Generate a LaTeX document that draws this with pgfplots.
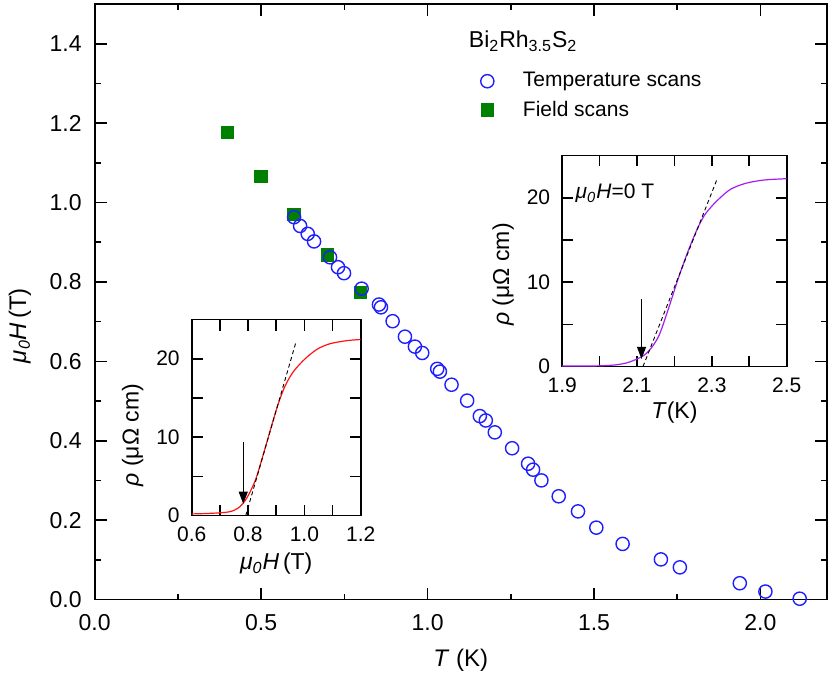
\documentclass[border=0pt]{standalone}
\usepackage{fontspec}
\setmainfont{Liberation Sans}
\usepackage{pgfplots}
\pgfplotsset{compat=1.18}
\usetikzlibrary{arrows.meta}
\definecolor{cblue}{RGB}{30,30,255}
\definecolor{cgreen}{RGB}{0,128,0}
\definecolor{cred}{RGB}{255,20,20}
\definecolor{cpurple}{RGB}{165,30,240}
\newcommand{\fsA}{\fontsize{11.5pt}{13.8pt}\selectfont}
\newcommand{\fsB}{\fontsize{10.5pt}{12.6pt}\selectfont}
\newcommand{\fsC}{\fontsize{12pt}{14.4pt}\selectfont}
\newcommand{\muH}{\textit{μ}\textsubscript{\textit{0}}\textit{H}}

\pgfplotstableread{
T H
0.599 0.963
0.617 0.941
0.640 0.921
0.659 0.902
0.707 0.862
0.731 0.837
0.749 0.822
0.802 0.783
0.854 0.743
0.860 0.736
0.895 0.701
0.932 0.662
0.962 0.637
0.984 0.621
1.029 0.581
1.037 0.574
1.072 0.541
1.119 0.501
1.157 0.462
1.175 0.451
1.202 0.421
1.254 0.381
1.302 0.342
1.317 0.327
1.342 0.300
1.394 0.260
1.452 0.222
1.507 0.181
1.586 0.140
1.701 0.101
1.758 0.081
1.938 0.041
2.015 0.020
2.118 0.002
}\tempscan

\pgfplotstableread{
T H
0.398 1.177
0.499 1.066
0.598 0.970
0.699 0.868
0.799 0.774
}\fieldscan

\pgfplotstableread{
H R
0.600 0.20
0.650 0.25
0.700 0.34
0.730 0.45
0.750 0.65
0.765 0.95
0.780 1.45
0.795 2.2
0.810 3.2
0.830 4.9
0.855 7.9
0.880 11.0
0.905 14.0
0.930 16.4
0.960 18.3
1.000 19.9
1.045 21.2
1.090 21.9
1.150 22.3
1.200 22.45
}\redcurve

\pgfplotstableread{
T R
1.900 0.05
1.950 0.05
2.000 0.08
2.040 0.18
2.070 0.40
2.090 0.70
2.110 1.10
2.125 1.55
2.140 2.30
2.160 3.8
2.185 7.0
2.210 10.4
2.235 13.5
2.260 16.2
2.280 17.9
2.300 19.0
2.320 19.9
2.350 21.0
2.390 21.7
2.440 22.1
2.500 22.25
}\purplecurve

\pgfplotsset{
  myframe/.style={
    scale only axis,
    axis line style={line width=0.9pt},
    tick style={line width=0.8pt, black},
    tick align=inside,
    /pgf/number format/assume math mode=true,
  }
}

\begin{document}
\begin{tikzpicture}
% ---------------- main axis ----------------
\begin{axis}[
  myframe,
  at={(0,0)}, anchor=south west,
  width=366.15pt, height=297.75pt,
  xmin=0, xmax=2.2, ymin=0, ymax=1.5,
  xtick={0,0.5,1,1.5,2},
  xticklabels={0.0,0.5,1.0,1.5,2.0},
  ytick={0,0.2,0.4,0.6,0.8,1.0,1.2,1.4},
  yticklabels={0.0,0.2,0.4,0.6,0.8,1.0,1.2,1.4},
  minor x tick num=1, minor y tick num=1,
  major tick length=6pt, minor tick length=3pt,
  ticklabel style={font=\fsA},
  xticklabel style={yshift=-4pt},
  yticklabel style={xshift=-3pt},
  xlabel={\textit{T} (K)},
  ylabel={\muH\,(T)},
  xlabel style={font=\fsC, at={(axis description cs:0.5,0)}, anchor=center, yshift=-30.5pt},
  ylabel style={font=\fsC, at={(axis description cs:0,0.46)}, anchor=center, yshift=37.35pt},
  clip=false,
  legend style={draw=none, fill=none, at={([xshift=1.5pt,yshift=-4pt]rel axis cs:0.5,0.964)}, anchor=north west,
    font=\fsB, row sep=1.5pt, column sep=12.5pt},
  legend cell align=left,
]
\addlegendimage{empty legend}
\addlegendentry{\hspace*{-27pt}\raisebox{5.5pt}[\height][\depth]{\fsA Bi\textsubscript{2}Rh\textsubscript{3.5}S\textsubscript{2}}}
\addlegendimage{only marks, mark=o, mark size=3.3pt, mark options={draw=cblue, line width=0.7pt}}
\addlegendentry{Temperature scans}
\addlegendimage{only marks, mark=square*, mark size=3.1pt, mark options={draw=cgreen, fill=cgreen}}
\addlegendentry{Field scans}

\addplot[forget plot, only marks, mark=square*, mark size=3.1pt, mark options={draw=cgreen, fill=cgreen}] table[x=T,y=H] {\fieldscan};
\addplot[forget plot, only marks, mark=o, mark size=3.3pt, mark options={draw=cblue, line width=0.7pt}] table[x=T,y=H] {\tempscan};
\end{axis}

% ---------------- inset 1 (field sweep) ----------------
\begin{axis}[
  myframe,
  at={(48.5pt,42pt)}, anchor=south west,
  width=84.5pt, height=98pt,
  axis background/.style={fill=white},
  xmin=0.6, xmax=1.2, ymin=0, ymax=25,
  xtick={0.6,0.7,0.8,0.9,1.0,1.1,1.2},
  xticklabels={0.6,,0.8,,1.0,,1.2},
  ytick={0,5,10,15,20,25},
  yticklabels={0,,10,,20,},
  major tick length=5.5pt,
  ticklabel style={font=\fsB},
  xticklabel style={yshift=-2pt},
  yticklabel style={xshift=-2.5pt},
  xlabel={\muH\,(T)},
  ylabel={\textit{ρ} (μΩ cm)},
  xlabel style={font=\fsA, at={(axis description cs:0.5,0)}, anchor=center, yshift=-24pt},
  ylabel style={font=\fsA, at={(axis description cs:0,0.41)}, anchor=center, yshift=29.5pt},
]
\addplot[cred, line width=0.6pt, smooth] table[x=H,y=R] {\redcurve};
\addplot[black, line width=0.45pt, dash pattern=on 2pt off 1.5pt] coordinates {(0.792,0) (0.970,22.1)};
\addplot[black, line width=0.5pt, -{Triangle[length=6pt,width=4.5pt]}] coordinates {(0.783,9.35) (0.783,1.5)};
\end{axis}

% ---------------- inset 2 (temperature sweep) ----------------
\begin{axis}[
  myframe,
  at={(233.75pt,116.5pt)}, anchor=south west,
  width=112.25pt, height=105.5pt,
  axis background/.style={fill=white},
  xmin=1.9, xmax=2.5, ymin=0, ymax=25,
  xtick={1.9,2.0,2.1,2.2,2.3,2.4,2.5},
  xticklabels={1.9,,2.1,,2.3,,2.5},
  ytick={0,5,10,15,20,25},
  yticklabels={0,,10,,20,},
  major tick length=5.5pt,
  ticklabel style={font=\fsB},
  xticklabel style={yshift=-2pt},
  yticklabel style={xshift=-2.5pt},
  xlabel={\textit{T}(K)},
  ylabel={\textit{ρ} (μΩ cm)},
  xlabel style={font=\fsA, at={(axis description cs:0.5,0)}, anchor=center, yshift=-23pt},
  ylabel style={font=\fsA, at={(axis description cs:0,0.436)}, anchor=center, yshift=29.5pt},
]
\addplot[cpurple, line width=0.6pt, smooth] table[x=T,y=R] {\purplecurve};
\addplot[black, line width=0.45pt, dash pattern=on 2pt off 1.5pt] coordinates {(2.116,0) (2.314,22.2)};
\addplot[black, line width=0.5pt, -{Triangle[length=6pt,width=4.5pt]}] coordinates {(2.112,8.0) (2.112,0.9)};
\node[anchor=west, font=\fsB, inner sep=0pt] at (axis cs:1.935,20.5) {\muH=0 T};
\end{axis}

\pgfresetboundingbox
\path (-47.35pt,-40.5pt) rectangle (367.65pt,299.75pt);
\end{tikzpicture}
\end{document}
